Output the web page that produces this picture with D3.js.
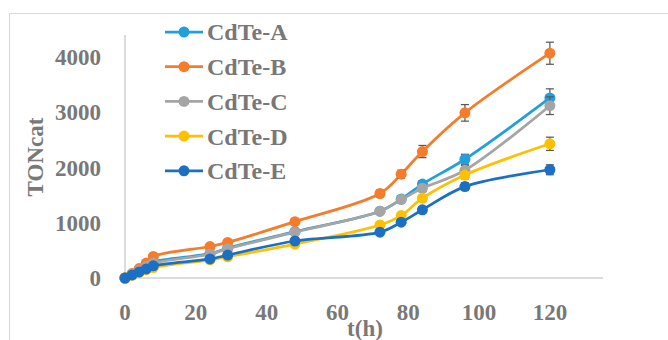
<!DOCTYPE html>
<html>
<head>
<meta charset="utf-8">
<script src="https://cdn.jsdelivr.net/npm/d3@7"></script>
<style>
  body { margin: 0; background: #fff; }
  svg { display: block; }
  text { font-family: "Palatino Linotype", "Book Antiqua", Palatino, "Liberation Serif", serif; font-weight: bold; fill: #787878; }
</style>
</head>
<body>
<svg id="chart" width="668" height="340"></svg>
<script>
// hours
const hours = [0, 2, 4, 6, 8, 24, 29, 48, 72, 78, 84, 96, 120];

const seriesNames = ["CdTe-A", "CdTe-B", "CdTe-C", "CdTe-D", "CdTe-E"];
const seriesColors = ["#22a0dc", "#f67b2b", "#a5a5a5", "#ffc000", "#1b70c6"];

const tonA = [0, 70, 150, 220, 290, 440, 540, 840, 1210, 1430, 1700, 2150, 3260];
const tonB = [0, 80, 170, 270, 390, 570, 645, 1020, 1530, 1880, 2290, 2990, 4070];
const tonC = [0, 70, 140, 210, 270, 430, 530, 830, 1210, 1420, 1625, 1950, 3120];
const tonD = [0, 50, 100, 150, 190, 330, 385, 615, 960, 1130, 1445, 1865, 2430];
const tonE = [0, 55, 110, 165, 220, 345, 415, 670, 830, 1010, 1235, 1655, 1960];

// error bars (+/-)
const errA = [0, 4, 8, 10, 12, 20, 25, 40, 50, 55, 60, 90, 165];
const errB = [0, 5, 10, 15, 20, 30, 35, 50, 60, 70, 110, 150, 200];
const errC = [0, 4, 8, 10, 12, 20, 25, 40, 50, 55, 60, 90, 160];
const errD = [0, 3, 6, 8, 10, 15, 20, 30, 40, 45, 55, 70, 120];
const errE = [0, 3, 6, 8, 10, 15, 20, 30, 40, 45, 55, 70, 90];

const xTicks = [0, 20, 40, 60, 80, 100, 120];
const yTicks = [0, 1000, 2000, 3000, 4000];

const values = [tonA, tonB, tonC, tonD, tonE];
const errors = [errA, errB, errC, errD, errE];

const svg = d3.select("#chart");

// chart frame
svg.append("rect")
  .attr("x", 9.5).attr("y", 13.5)
  .attr("width", 700).attr("height", 400)
  .attr("fill", "none")
  .attr("stroke", "#d9d9d9")
  .attr("stroke-width", 1);

const x = d3.scaleLinear().domain([0, 135]).range([125, 603]);
const y = d3.scaleLinear().domain([0, 4400]).range([278, 35]);

// axes lines
svg.append("line")
  .attr("x1", x(0)).attr("x2", x(0))
  .attr("y1", y(4400)).attr("y2", y(0))
  .attr("stroke", "#d0d0d0").attr("stroke-width", 1.5);
svg.append("line")
  .attr("x1", x(0)).attr("x2", x(135))
  .attr("y1", y(0)).attr("y2", y(0))
  .attr("stroke", "#d0d0d0").attr("stroke-width", 1.5);

svg.append("g").selectAll("text")
  .data(yTicks).enter().append("text")
    .attr("x", 101)
    .attr("y", d => y(d))
    .attr("dy", "0.35em")
    .attr("text-anchor", "end")
    .style("font-size", "23px")
    .text(d => d);

svg.append("g").selectAll("text")
  .data(xTicks).enter().append("text")
    .attr("x", d => x(d))
    .attr("y", 320)
    .attr("text-anchor", "middle")
    .style("font-size", "23px")
    .text(d => d);

// axis titles
svg.append("text")
  .attr("transform", "translate(35,157) rotate(-90)")
  .attr("dy", "0.35em")
  .attr("text-anchor", "middle")
  .style("font-size", "23px")
  .text("TONcat");

svg.append("text")
  .attr("x", 365).attr("y", 336)
  .attr("text-anchor", "middle")
  .style("font-size", "23px")
  .text("t(h)");

const line = d3.line()
  .x(d => x(d[0]))
  .y(d => y(d[1]))
  .curve(d3.curveCatmullRom.alpha(0.5));

values.forEach((vals, i) => {
  const pts = hours.map((h, j) => [h, vals[j], errors[i][j]]);
  const g = svg.append("g");

  g.append("path")
    .datum(pts)
    .attr("d", line)
    .attr("fill", "none")
    .attr("stroke", seriesColors[i])
    .attr("stroke-width", 2.75);

  const bars = g.selectAll(".err")
    .data(pts.filter(d => d[2] > 0)).enter().append("g");
  bars.append("line")
    .attr("x1", d => x(d[0])).attr("x2", d => x(d[0]))
    .attr("y1", d => y(d[1] - d[2])).attr("y2", d => y(d[1] + d[2]))
    .attr("stroke", "#595959").attr("stroke-width", 1.25);
  [-1, 1].forEach(s => {
    bars.append("line")
      .attr("x1", d => x(d[0]) - 4).attr("x2", d => x(d[0]) + 4)
      .attr("y1", d => y(d[1] + s * d[2])).attr("y2", d => y(d[1] + s * d[2]))
      .attr("stroke", "#595959").attr("stroke-width", 1.25);
  });

  g.selectAll("circle")
    .data(pts).enter().append("circle")
      .attr("cx", d => x(d[0]))
      .attr("cy", d => y(d[1]))
      .attr("r", 5.5)
      .attr("fill", seriesColors[i]);
});

// legend
const legend = svg.append("g")
  .selectAll("g")
  .data(seriesNames).enter().append("g")
    .attr("transform", (d, i) => `translate(165, ${32 + i * 34.7})`);
legend.append("line")
  .attr("x1", 0).attr("x2", 38)
  .attr("stroke", (d, i) => seriesColors[i])
  .attr("stroke-width", 2.75);
legend.append("circle")
  .attr("cx", 19).attr("r", 5.5)
  .attr("fill", (d, i) => seriesColors[i]);
legend.append("text")
  .attr("x", 42)
  .attr("dy", "0.35em")
  .style("font-size", "24px")
  .text(d => d);
</script>
</body>
</html>
